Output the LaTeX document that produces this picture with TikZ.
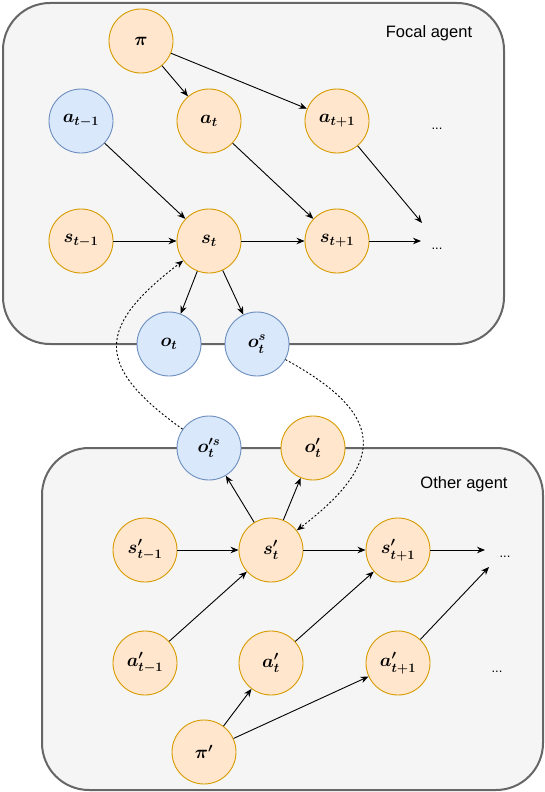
\RequirePackage{fix-cm}
\documentclass[tikz,border=0pt]{standalone}
\usepackage{fontspec}
\setmainfont{Liberation Sans}
\usetikzlibrary{arrows.meta}
\definecolor{ofill}{HTML}{FFE6CC}
\definecolor{odraw}{HTML}{D79B00}
\definecolor{bfill}{HTML}{DAE8FC}
\definecolor{bdraw}{HTML}{6C8EBF}
\definecolor{gfill}{HTML}{F5F5F5}
\definecolor{gdraw}{HTML}{666666}
\begin{document}
\begin{tikzpicture}[x=1pt,y=-1pt,
  var/.style={circle, minimum size=64pt, inner sep=0pt, line width=0.9pt, font=\fontsize{18.5}{22}\selectfont\boldmath},
  orng/.style={var, fill=ofill, draw=odraw},
  blu/.style={var, fill=bfill, draw=bdraw},
  agentbox/.style={fill=gfill, draw=gdraw, line width=2pt, rounded corners=47pt},
  edge/.style={-{Stealth[length=8pt,width=6.5pt]}, line width=0.9pt},
  dep/.style={edge, dash pattern=on 2pt off 2pt},
  lbl/.style={font=\fontsize{16.5}{20}\selectfont},
  dots/.style={font=\fontsize{13}{15}\selectfont, anchor=base}]
\useasboundingbox (0,0) rectangle (545,792);
% agent boxes
\draw[agentbox] (3,3) rectangle (504,344);
\draw[agentbox] (42,448) rectangle (543,790);
% focal agent
\node[lbl] (focal) at (429,33) {Focal agent};
\node[orng] (pi) at (141,41) {$\pi$};
\node[blu] (am1) at (81,121) {$a_{t-1}$};
\node[orng] (a0) at (209,121) {$a_t$};
\node[orng] (ap1) at (337,121) {$a_{t+1}$};
\node[orng] (sm1) at (81,241) {$s_{t-1}$};
\node[orng] (s0) at (209,241) {$s_t$};
\node[orng] (sp1) at (337,241) {$s_{t+1}$};
\node[blu] (o) at (169,344) {$o_t$};
\node[blu] (os) at (257,344) {$o_t^s$};
\coordinate (aend) at (422,223);
\coordinate (send) at (421,241);
\node[dots] (d1) at (437,129) {...};
\node[dots] (d2) at (437,249) {...};
% other agent
\node[lbl] (other) at (464,484) {Other agent};
\node[blu] (ops) at (209,448) {$o_t^{\prime s}$};
\node[orng] (op) at (313,448) {$o'_t$};
\node[orng] (spm1) at (145,550) {$s'_{t-1}$};
\node[orng] (sp0) at (271,550) {$s'_t$};
\node[orng] (spp1) at (398,550) {$s'_{t+1}$};
\node[orng] (apm1) at (145,663) {$a'_{t-1}$};
\node[orng] (ap0) at (271,663) {$a'_t$};
\node[orng] (app1) at (398,663) {$a'_{t+1}$};
\node[orng] (pip) at (204,752) {$\pi'$};
\coordinate (spend) at (485,550);
\coordinate (apend) at (489,567);
\node[dots] (d3) at (505,557) {...};
\node[dots] (d4) at (497,672) {...};
% focal edges
\draw[edge] (pi) -- (a0);
\draw[edge] (pi) -- (ap1);
\draw[edge] (am1) -- (s0);
\draw[edge] (a0) -- (sp1);
\draw[edge] (ap1) -- (aend);
\draw[edge] (sm1) -- (s0);
\draw[edge] (s0) -- (sp1);
\draw[edge] (sp1) -- (send);
\draw[edge] (s0) -- (o);
\draw[edge] (s0) -- (os);
% other edges
\draw[edge] (sp0) -- (ops);
\draw[edge] (sp0) -- (op);
\draw[edge] (spm1) -- (sp0);
\draw[edge] (sp0) -- (spp1);
\draw[edge] (spp1) -- (spend);
\draw[edge] (apm1) -- (sp0);
\draw[edge] (ap0) -- (spp1);
\draw[edge] (app1) -- (apend);
\draw[edge] (pip) -- (ap0);
\draw[edge] (pip) -- (app1);
% cross-agent dependencies
\draw[dep] (ops) .. controls (94,366) and (96,327) .. (s0);
\draw[dep] (os) .. controls (385,414) and (388,461) .. (sp0);
\end{tikzpicture}
\end{document}
